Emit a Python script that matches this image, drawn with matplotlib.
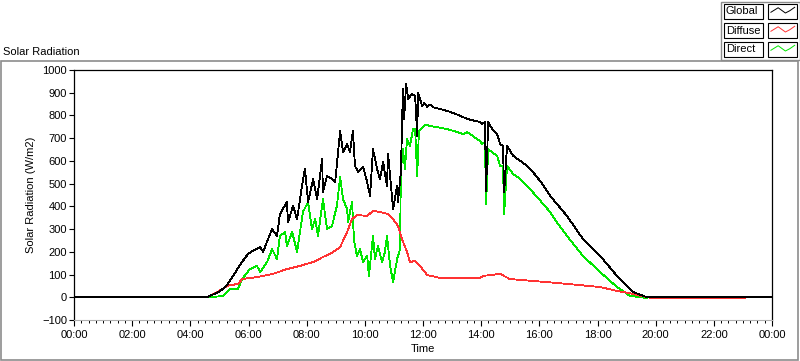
import numpy as np
import matplotlib
matplotlib.use("Agg")
import matplotlib.pyplot as plt
from matplotlib.ticker import MultipleLocator, FuncFormatter
from matplotlib.patches import Rectangle
from matplotlib.lines import Line2D

plt.rcParams['font.family'] = ['Liberation Sans', 'DejaVu Sans']
plt.rcParams['font.size'] = 8

# time in hours, radiation in W/m2
global_t = [0, 4.57, 5.0, 5.25, 5.47, 5.81, 5.98, 6.15, 6.40, 6.50, 6.81, 6.98, 7.08, 7.32, 7.36,
            7.53, 7.67, 7.84, 7.94, 8.05, 8.22, 8.36, 8.53, 8.56, 8.70, 8.87, 8.98, 9.08, 9.15,
            9.25, 9.39, 9.49, 9.59, 9.66, 9.77, 9.94, 10.08, 10.18, 10.28, 10.42, 10.52,
            10.63, 10.76, 10.80, 10.94, 10.97, 11.11, 11.14, 11.24, 11.31, 11.35, 11.42,
            11.49, 11.62, 11.73, 11.80, 11.83, 11.97, 12.05, 12.14, 12.25, 12.35, 12.60,
            12.83, 13.10, 13.38, 13.51, 13.96, 14.03, 14.13, 14.17, 14.24, 14.40, 14.55,
            14.65, 14.75, 14.79, 14.89, 15.10, 15.35, 15.58, 15.78, 16.10, 16.37, 16.65,
            16.95, 17.50, 18.09, 18.67, 19.22, 19.70, 24]
global_v = [0, 0, 25, 51, 95, 161, 190, 205, 221, 200, 300, 270, 366, 419, 331,
            402, 344, 490, 565, 419, 520, 432, 608, 463, 534, 520, 507, 639, 732,
            639, 674, 639, 732, 578, 551, 573, 507, 446, 652, 565, 520,
            595, 490, 630, 432, 388, 490, 419, 551, 917, 785, 939,
            873, 895, 886, 710, 900, 842, 855, 838, 848, 836, 828,
            820, 808, 793, 785, 771, 762, 771, 468, 771, 735, 718,
            674, 666, 463, 666, 622, 600, 578, 551, 500, 446, 404,
            358, 256, 182, 94, 23, 0, 0]

diffuse_t = [4.57, 4.92, 5.30, 5.64, 5.78, 6.29, 6.84, 7.32, 7.77, 8.22, 8.56, 8.91, 9.15,
             9.39, 9.56, 9.73, 10.08, 10.28, 10.52, 10.80, 10.97, 11.14, 11.28, 11.45,
             11.55, 11.73, 11.90, 12.14, 12.59, 13.27, 13.96, 14.07, 14.65, 14.99, 15.78,
             16.95, 18.09, 18.67, 19.22, 19.70, 19.91, 23.07]
diffuse_v = [0, 23, 51, 59, 80, 89, 103, 124, 138, 155, 177, 199, 221,
             287, 344, 362, 358, 380, 375, 366, 344, 314, 256, 199,
             155, 160, 138, 98, 85, 85, 85, 94, 103, 80, 72,
             59, 45, 28, 15, 0, -3, -3]

direct_t = [4.57, 5.12, 5.36, 5.64, 5.78, 6.05, 6.29, 6.40, 6.64, 6.81, 6.98, 7.08, 7.26,
            7.32, 7.50, 7.67, 7.77, 7.87, 8.05, 8.18, 8.29, 8.39, 8.56, 8.70, 8.87, 9.04,
            9.15, 9.25, 9.39, 9.42, 9.56, 9.63, 9.73, 9.83, 9.94, 10.08, 10.14, 10.28,
            10.35, 10.45, 10.59, 10.69, 10.76, 10.87, 10.97, 11.11, 11.21, 11.24, 11.31,
            11.38, 11.45, 11.55, 11.66, 11.73, 11.80, 11.86, 12.00, 12.10, 12.24, 12.50,
            12.83, 13.10, 13.38, 13.51, 13.96, 14.03, 14.13, 14.17, 14.24, 14.40, 14.55,
            14.65, 14.75, 14.79, 14.89, 15.10, 15.35, 15.58, 16.00, 16.37, 16.65, 16.95,
            17.50, 18.09, 18.67, 19.12, 19.70]
direct_v = [0, 5, 37, 37, 80, 124, 138, 111, 155, 212, 168, 270, 287,
            226, 287, 199, 287, 375, 419, 300, 344, 270, 432, 300, 314, 402,
            529, 432, 388, 331, 419, 248, 182, 212, 155, 182, 94, 270,
            168, 226, 155, 199, 270, 138, 67, 168, 212, 565, 652,
            565, 696, 666, 740, 740, 534, 732, 749, 760, 754, 748,
            740, 730, 718, 727, 688, 674, 683, 410, 652, 635, 622,
            578, 578, 366, 578, 542, 520, 490, 430, 375, 322, 270,
            182, 111, 45, 6, -3]

series_names = ["Global", "Diffuse", "Direct"]
series_colors = ["black", "#ff3333", "#00e600"]

W, H = 800, 361
fig = plt.figure(figsize=(W / 100, H / 100), dpi=100)

def fx(px):
    return px / W

def fy(py):
    return 1 - py / H

# outer gray panel frame
fig.add_artist(Rectangle((fx(1), fy(360)), fx(797), fy(61) - fy(360), transform=fig.transFigure,
                         fill=False, edgecolor="#8c8c8c", lw=1.2))
fig.text(fx(3), fy(52), "Solar Radiation", ha="left", va="center", fontsize=8)

ax = fig.add_axes([fx(74), fy(320), fx(772) - fx(74), fy(70) - fy(320)])
ax.plot(direct_t, direct_v, color=series_colors[2], lw=0.6, antialiased=False)
ax.plot(diffuse_t, diffuse_v, color=series_colors[1], lw=0.6, antialiased=False)
ax.plot(global_t, global_v, color=series_colors[0], lw=0.6, antialiased=False)

ax.set_xlim(0, 24)
ax.set_ylim(-100, 1000)
ax.yaxis.set_major_locator(MultipleLocator(100))
ax.xaxis.set_major_locator(MultipleLocator(2))
ax.xaxis.set_minor_locator(MultipleLocator(0.25))
ax.xaxis.set_major_formatter(FuncFormatter(lambda v, p: "%02d:00" % (int(round(v)) % 24)))
ax.tick_params(axis="y", direction="out", length=3.5, width=0.8, pad=1.5, labelsize=8)
ax.tick_params(axis="x", which="major", direction="out", length=4, width=0.8, pad=3, labelsize=8)
ax.tick_params(axis="x", which="minor", direction="out", length=2.2, width=0.7)
for s in ["left", "top", "right"]:
    ax.spines[s].set_color("black")
    ax.spines[s].set_linewidth(0.9)
ax.spines["bottom"].set_color("#b0b0b0")
ax.spines["bottom"].set_linewidth(0.8)
ax.set_ylabel("Solar Radiation (W/m2)", fontsize=8, labelpad=4)
ax.set_xlabel("Time", fontsize=8, labelpad=3)

# legend panel, top right
fig.add_artist(Rectangle((fx(721), fy(60)), fx(79), fy(2) - fy(60), transform=fig.transFigure,
                         facecolor="white", edgecolor="#8c8c8c", lw=1.0))
row_top = [4, 23, 42]
zig = [(0.1, 0.45), (0.35, 0.75), (0.6, 0.4), (0.75, 0.55), (0.92, 0.78)]
for name, color, top in zip(series_names, series_colors, row_top):
    bottom = top + 15
    fig.add_artist(Rectangle((fx(724), fy(bottom)), fx(39), fy(top) - fy(bottom),
                             transform=fig.transFigure, fill=False, edgecolor="black", lw=0.8))
    fig.text(fx(726), fy(top + 7.5), name, ha="left", va="center", fontsize=8)
    fig.add_artist(Rectangle((fx(768), fy(bottom)), fx(29), fy(top) - fy(bottom),
                             transform=fig.transFigure, fill=False, edgecolor="black", lw=0.8))
    xs = [fx(768 + 29 * a) for a, b in zig]
    ys = [fy(bottom - 15 * b) for a, b in zig]
    fig.add_artist(Line2D(xs, ys, transform=fig.transFigure, color=color, lw=0.7))

fig.savefig("out.png", dpi=100)
